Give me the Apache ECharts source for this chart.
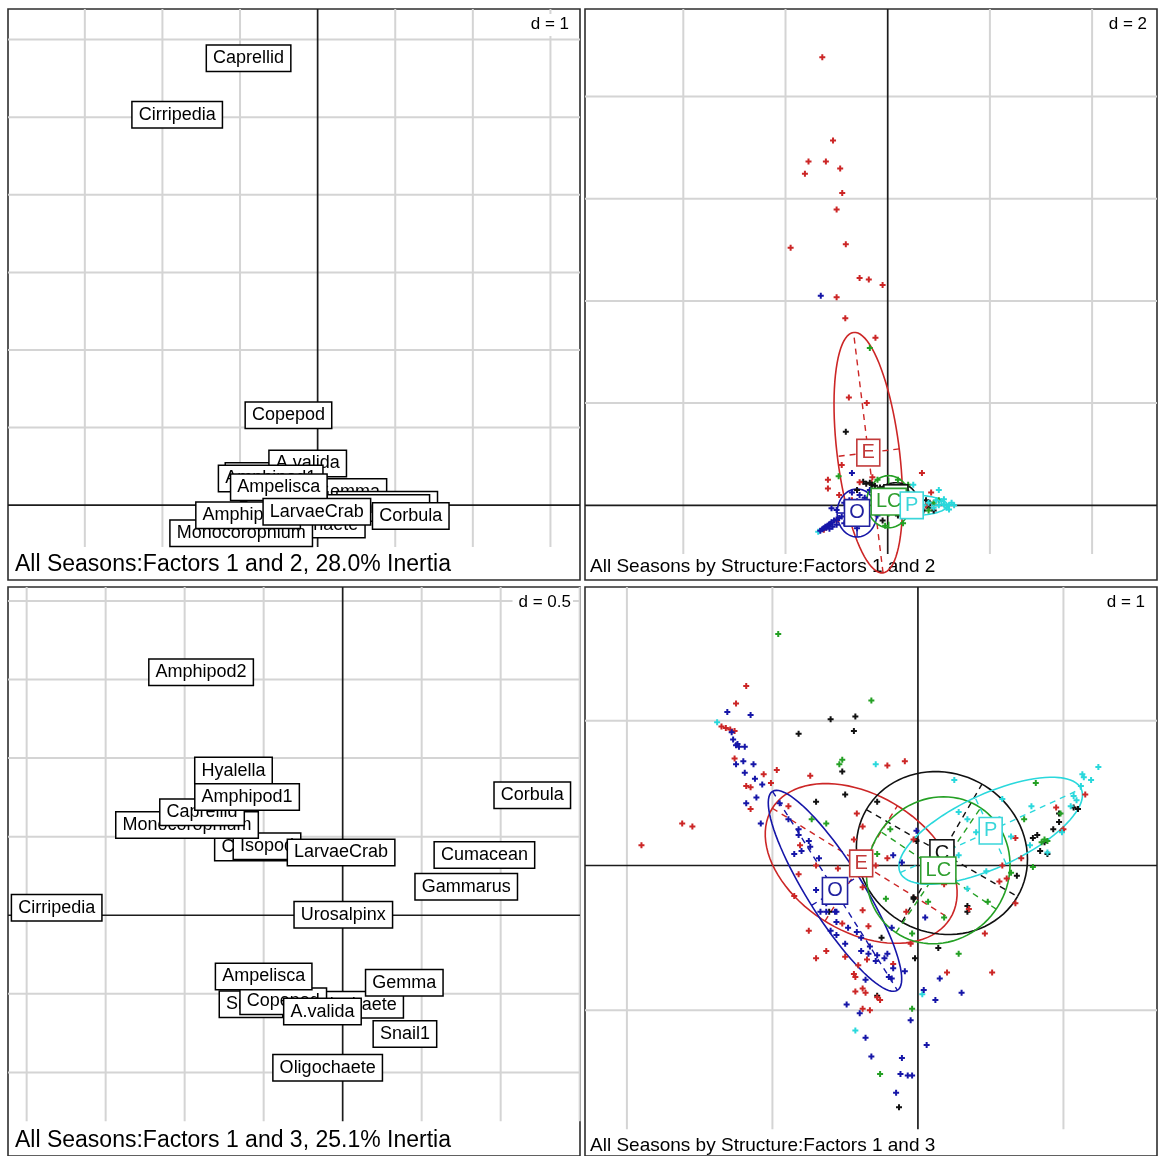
<!DOCTYPE html>
<html>
<head>
<meta charset="utf-8">
<script src="https://cdn.jsdelivr.net/npm/echarts@6/dist/echarts.min.js"></script>
<style>
  html, body { margin: 0; padding: 0; background: #fff; }
  #chart { width: 1159px; height: 1156px; }
</style>
</head>
<body>
<div id="chart"></div>
<script>
// ---- species scores (drawn in this order, later labels on top) ----
const species = ['Snail2','Crangon','Isopod','Polychaete','Urosalpinx','Snail1','Gemma','Cumacean','Gammarus',
  'Oligochaete','Hyalella','Copepod','A.valida','Monocorophium','Caprellid','Amphipod1',
  'Ampelisca','Amphipod2','LarvaeCrab','Corbula','Cirripedia'];
const factor1 = [-0.58,-0.549,-0.479,0.06,0.004,0.394,0.39,0.897,0.782,-0.095,-0.691,-0.376,-0.128,-0.985,-0.89,-0.605,-0.50,-0.896,-0.01,1.20,-1.81];
const factor2 = [0.22,0.28,0.20,0.0,-0.05,0.12,0.17,0.006,-0.036,-0.25,0.376,1.16,0.537,-0.36,5.76,0.345,0.232,-0.13,-0.086,-0.138,5.03];
const factor3 = [-0.566,0.432,0.439,-0.57,0.004,-0.756,-0.43,0.384,0.182,-0.971,0.921,-0.547,-0.613,0.574,0.655,0.752,-0.389,1.547,0.40,0.763,0.048];

// ---- site classes ----
const classNames = ['E','O','C','LC','P'];
const classColors = ['#cc2626','#1616a8','#111111','#24a024','#2ad8dc'];
const classLabelColors = ['#c23a3a','#2222a0','#111111','#2e9e2e','#3ad6da'];

// ---- site scores, factors 1 & 2 ----
const pts12E = [[-1.28,8.77],[-1.07,7.14],[-1.55,6.73],[-1.21,6.73],[-0.93,6.59],[-1.62,6.49],[-0.89,6.11],[-1.00,5.79],[-1.90,5.04],[-0.82,5.11],[-0.55,4.45],[-0.37,4.42],[-0.10,4.31],[-1.00,4.07],[-0.83,3.66],[-0.24,3.28],[-0.76,2.11],[-0.41,2.00],[-0.90,0.79],[-1.17,0.50],[-1.17,0.33],[0.67,0.63],[-0.55,0.45],[-0.30,0.55],[-0.20,0.25],[-0.70,0.10],[-1.00,-0.30],[-0.50,-0.30],[0.05,0.35],[0.30,0.10],[0.85,0.25],[0.75,0.00],[-1.25,-0.48],[-0.95,0.20]];
const pts12O = [[-1.32,-0.50],[-1.28,-0.47],[-1.25,-0.45],[-1.22,-0.42],[-1.20,-0.44],[-1.18,-0.40],[-1.15,-0.38],[-1.12,-0.36],[-1.10,-0.33],[-1.05,-0.30],[-1.00,-0.28],[-0.95,-0.25],[-0.90,-0.22],[-1.08,-0.42],[-1.14,-0.46],[-1.00,-0.38],[-0.85,0.05],[-0.80,-0.05],[-0.75,0.10],[-0.70,0.25],[-0.65,0.00],[-0.55,0.20],[-0.50,-0.10],[-0.45,0.15],[-0.40,-0.30],[-0.60,-0.45],[-0.35,0.30],[-0.30,0.10],[-1.10,-0.06],[-1.00,-0.09],[-0.70,0.63],[-1.31,4.10],[-0.20,-0.20],[-0.85,-0.35]];
const pts12C = [[-0.82,1.44],[-0.48,0.46],[-0.42,0.42],[-0.35,0.44],[-0.31,0.40],[-0.25,0.38],[-0.60,0.30],[-0.15,0.35],[-0.05,0.30],[0.10,0.20],[0.75,0.10],[0.80,-0.05],[0.82,0.05],[0.90,-0.10],[0.20,-0.20],[-0.10,-0.30],[0.70,-0.10]];
const pts12LC = [[-0.35,3.08],[-0.96,0.57],[0.00,0.35],[0.20,0.50],[0.40,0.40],[-0.20,0.50],[0.50,-0.20],[0.30,-0.35],[0.90,0.05],[1.00,0.10],[0.80,-0.10],[-0.10,0.10],[0.15,-0.10],[0.60,0.20],[-0.05,-0.40],[0.35,0.15]];
const pts12P = [[0.60,0.05],[0.70,0.00],[0.80,0.05],[0.90,-0.05],[1.00,0.00],[1.10,0.02],[1.20,0.00],[1.30,0.00],[1.25,0.05],[1.15,-0.05],[1.05,0.08],[0.95,0.10],[0.50,0.40],[1.00,0.30],[-1.36,-0.52],[0.40,-0.10],[0.30,0.25],[1.20,-0.08],[1.10,0.12]];

// ---- site scores, factors 1 & 3 ----
const pts13E = [[-1.18,1.24],[-1.25,1.12],[-1.35,0.96],[-1.32,0.95],[-1.29,0.94],[-1.26,0.93],[-1.26,0.74],[-1.06,0.63],[-0.97,0.66],[-1.01,0.57],[-1.18,0.55],[-1.15,0.54],[-0.74,0.62],[-1.15,0.39],[-0.89,0.41],[-1.62,0.29],[-1.55,0.27],[-1.90,0.14],[-0.21,0.69],[-0.09,0.72],[-0.42,0.36],[-0.38,0.27],[-0.44,0.18],[-0.81,0.14],[-0.82,-0.06],[-0.70,0.0],[-0.55,-0.02],[-0.85,-0.21],[-0.38,-0.15],[-0.38,-0.31],[-0.34,-0.42],[-0.52,-0.40],[-0.75,-0.45],[-0.63,-0.59],[-0.70,-0.64],[-0.50,-0.63],[-0.41,-0.69],[-0.35,-0.65],[-0.44,-0.75],[-0.43,-0.77],[-0.17,-0.68],[-0.43,-0.87],[-0.38,-0.85],[-0.36,-0.88],[-0.26,-0.93],[-0.28,-0.91],[-0.38,-0.99],[-0.33,-1.0],[-0.08,-0.32],[-0.21,0.05],[-0.29,0.0],[-0.03,0.18],[0.15,0.04],[0.35,-0.30],[0.56,-0.11],[0.61,-0.09],[0.58,0.0],[0.71,0.05],[0.67,0.19],[0.18,-0.13],[0.22,0.03],[0.67,-0.26],[0.46,-0.47],[0.51,-0.74],[0.20,-0.74],[-0.05,-0.54],[1.0,0.25],[0.95,0.40],[1.15,0.49],[0.99,0.24]];
const pts13O = [[-1.31,1.06],[-1.15,1.04],[-1.28,0.92],[-1.27,0.87],[-1.25,0.83],[-1.23,0.82],[-1.24,0.84],[-1.19,0.82],[-1.25,0.70],[-1.20,0.72],[-1.13,0.70],[-1.19,0.64],[-1.12,0.60],[-1.07,0.56],[-1.18,0.43],[-1.11,0.47],[-1.08,0.29],[-0.95,0.43],[-0.89,0.32],[-0.82,0.25],[-0.82,0.21],[-0.75,0.17],[-0.74,0.13],[-0.68,0.05],[-0.85,0.08],[-0.80,0.10],[-0.70,-0.17],[-0.63,-0.26],[-0.56,-0.32],[-0.67,-0.32],[-0.63,-0.32],[-0.57,-0.32],[-0.56,-0.39],[-0.60,-0.45],[-0.56,-0.48],[-0.50,-0.54],[-0.48,-0.43],[-0.42,-0.46],[-0.39,-0.50],[-0.33,-0.56],[-0.39,-0.59],[-0.34,-0.61],[-0.29,-0.66],[-0.28,-0.62],[-0.23,-0.64],[-0.21,-0.61],[-0.18,-0.43],[-0.09,-0.73],[-0.17,-0.71],[-0.20,-0.77],[-0.18,-0.78],[-0.36,-0.79],[0.04,-0.86],[0.05,-0.36],[0.15,-0.78],[0.12,-0.93],[0.30,-0.88],[-0.49,-0.96],[-0.40,-1.02],[-0.05,-1.07],[-0.36,-1.19],[0.06,-1.24],[-0.32,-1.32],[-0.11,-1.33],[-0.12,-1.44],[-0.07,-1.45],[-0.04,-1.45],[-0.15,-1.57],[-0.01,0.24],[-0.17,0.07],[-0.11,0.02]];
const pts13C = [[-0.60,1.01],[-0.43,1.03],[-0.44,0.93],[-0.82,0.91],[-0.52,0.65],[-0.50,0.49],[-0.70,0.44],[-0.28,0.44],[0.79,0.19],[0.82,0.21],[0.84,0.10],[0.89,0.08],[0.87,0.16],[0.97,0.36],[0.97,0.30],[0.93,0.25],[1.07,0.40],[1.10,0.39],[-0.01,0.17],[-0.03,-0.22],[0.68,-0.07],[0.34,-0.28],[0.34,-0.32],[-0.61,-0.32],[-0.03,-0.23],[-0.25,-0.50],[-0.02,-0.64],[0.14,-0.57],[-0.28,-0.90],[-0.13,-1.67]];
const pts13LC = [[-0.96,1.60],[-0.32,1.14],[-0.52,0.73],[-0.54,0.70],[-0.73,0.32],[-0.63,0.29],[-0.19,0.25],[-0.28,0.08],[0.81,0.57],[0.73,0.32],[0.87,0.18],[0.85,0.16],[0.89,0.17],[0.98,0.36],[0.79,-0.01],[0.07,-0.25],[0.48,-0.25],[0.64,-0.05],[-0.22,-0.23],[0.18,-0.36],[-0.04,-0.47],[0.28,-0.61],[-0.04,-0.99],[-0.26,-1.44]];
const pts13P = [[-1.38,0.99],[-0.29,0.70],[0.25,0.59],[1.13,0.63],[1.19,0.59],[1.24,0.68],[1.14,0.61],[1.07,0.48],[1.09,0.45],[0.99,0.23],[0.89,0.09],[0.77,0.14],[0.78,0.41],[0.64,0.20],[0.56,0.32],[0.40,0.23],[0.47,-0.04],[0.34,-0.16],[0.28,0.07],[0.28,0.37],[0.58,0.46],[0.34,0.32],[0.03,-0.89],[-0.43,-1.14],[1.05,0.41],[1.12,0.55]];

// ---- class ellipses (centre, semi-axes, major-axis angle in degrees), order E, O, C, LC, P ----
const ell12Cx = [-0.38, -0.60, 0.16, 0.02, 0.47];
const ell12Cy = [1.03, -0.15, 0.14, 0.07, 0.0];
const ell12A = [2.37, 0.47, 0.40, 0.51, 0.70];
const ell12B = [0.61, 0.39, 0.30, 0.43, 0.20];
const ell12Angle = [97, 90, 0, 90, 0];

const ell13Cx = [-0.39, -0.57, 0.165, 0.14, 0.50];
const ell13Cy = [0.014, -0.175, 0.086, -0.033, 0.24];
const ell13A = [0.72, 0.81, 0.60, 0.52, 0.686];
const ell13B = [0.47, 0.19, 0.55, 0.48, 0.253];
const ell13Angle = [-32, -58, -30, 56, 25];

// ---- panel texts ----
const subTitles = ['All Seasons:Factors 1 and 2, 28.0% Inertia', 'All Seasons by Structure:Factors 1 and 2',
  'All Seasons:Factors 1 and 3, 25.1% Inertia', 'All Seasons by Structure:Factors 1 and 3'];
const gridSteps = [1, 2, 0.5, 1];
const gridStepLabels = ['d = 1', 'd = 2', 'd = 0.5', 'd = 1'];

// ---- layout ----
const FONT = '"Liberation Sans", Arial, Helvetica, sans-serif';
const panelBoxes = [
  { left: 8,   top: 9,   width: 572, height: 571 },
  { left: 585, top: 9,   width: 572, height: 571 },
  { left: 8,   top: 587, width: 572, height: 572 },
  { left: 585, top: 587, width: 572, height: 572 }
];
const xRanges = [[-3.99, 3.381], [-5.924, 5.270], [-2.118, 1.502], [-2.288, 1.643]];
const yRanges = [[-0.964, 6.394], [-1.462, 9.712], [-1.532, 2.089], [-2.007, 1.924]];
const bandTops = [547, 554, 1124, 1132];          // grid lines stop above the caption strip
const subStyle = [
  { x: 15, y: 565, size: 23 }, { x: 590, y: 567, size: 19 },
  { x: 15, y: 1141, size: 23 }, { x: 590, y: 1146, size: 19 }
];
const dStyle = [
  { x: 571, y: 14 }, { x: 1149, y: 14 }, { x: 573, y: 592 }, { x: 1147, y: 592 }
];

const PLUS = 'path://M2,0H4V2H6V4H4V6H2V4H0V2H2Z';

function range(min, max, step) {
  const out = [];
  const k0 = Math.ceil(min / step - 1e-9), k1 = Math.floor(max / step + 1e-9);
  for (let k = k0; k <= k1; k++) { if (k !== 0) out.push(+(k * step).toFixed(6)); }
  return out;
}

const grids = [], xAxes = [], yAxes = [], series = [], graphics = [];

panelBoxes.forEach((b, i) => {
  grids.push({ left: b.left, top: b.top, width: b.width, height: b.height, show: true,
    borderColor: '#2e2e2e', borderWidth: 1.6, backgroundColor: '#fff' });
  xAxes.push({ gridIndex: i, type: 'value', min: xRanges[i][0], max: xRanges[i][1], show: false });
  yAxes.push({ gridIndex: i, type: 'value', min: yRanges[i][0], max: yRanges[i][1], show: false });

  const [x0, x1] = xRanges[i], [y0, y1] = yRanges[i];
  const pxPerUnit = b.height / (y1 - y0);
  const yBand = y1 - (bandTops[i] - b.top) / pxPerUnit;
  const lines = [];
  range(x0, x1, gridSteps[i]).forEach(v => lines.push([0, v, yBand, y1, 0]));
  range(yBand, y1, gridSteps[i]).forEach(v => lines.push([1, v, x0, x1, 0]));
  lines.push([0, 0, yBand, y1, 1]);
  lines.push([1, 0, x0, x1, 1]);

  series.push({
    type: 'custom', xAxisIndex: i, yAxisIndex: i, silent: true, z: 1, animation: false,
    data: lines,
    renderItem: (params, api) => {
      const o = api.value(0), v = api.value(1), a = api.value(2), c = api.value(3), k = api.value(4);
      const p0 = o === 0 ? api.coord([v, a]) : api.coord([a, v]);
      const p1 = o === 0 ? api.coord([v, c]) : api.coord([c, v]);
      return { type: 'line', shape: { x1: p0[0], y1: p0[1], x2: p1[0], y2: p1[1] },
        style: { stroke: k ? '#1c1c1c' : '#d4d4d4', lineWidth: k ? 1.7 : 2 }, z2: k ? 2 : 1 };
    }
  });

  graphics.push({ type: 'text', x: dStyle[i].x, y: dStyle[i].y, z: 1.5, silent: true,
    style: { text: gridStepLabels[i], font: '17px ' + FONT, fill: '#000', align: 'right', verticalAlign: 'top',
      backgroundColor: '#fff', padding: [2, 2, 3, 6] } });
  graphics.push({ type: 'text', x: subStyle[i].x, y: subStyle[i].y, z: 1.5, silent: true,
    style: { text: subTitles[i], font: subStyle[i].size + 'px ' + FONT, fill: '#000', align: 'left', verticalAlign: 'middle' } });
});

// species label boxes
function labelSeries(gi, ys) {
  return {
    type: 'scatter', xAxisIndex: gi, yAxisIndex: gi, silent: true, z: 3, animation: false,
    symbol: 'circle', symbolSize: 1, itemStyle: { color: 'rgba(0,0,0,0)', opacity: 1 },
    data: species.map((s, k) => ({ name: s, value: [factor1[k], ys[k]] })),
    label: { show: true, position: 'inside', formatter: p => p.name, fontSize: 18, fontFamily: FONT,
      color: '#000', backgroundColor: '#fff', borderColor: '#000', borderWidth: 1.5, padding: [4, 6, 3, 6] },
    labelLayout: { hideOverlap: false }
  };
}
series.push(labelSeries(0, factor2));
series.push(labelSeries(2, factor3));

// class ellipses with dashed axes
function ellipseSeries(gi, cx, cy, aa, bb, ang) {
  return {
    type: 'custom', xAxisIndex: gi, yAxisIndex: gi, silent: true, z: 2, animation: false, clip: true,
    data: cx.map((v, k) => [v, cy[k], aa[k], bb[k], ang[k], k]),
    renderItem: (params, api) => {
      const c0 = api.value(0), c1 = api.value(1), a = api.value(2), b = api.value(3);
      const t0 = api.value(4) * Math.PI / 180, ci = api.value(5);
      const color = classColors[ci];
      const ca = Math.cos(t0), sa = Math.sin(t0);
      const pts = [];
      for (let s = 0; s <= 90; s++) {
        const t = 2 * Math.PI * s / 90, u = a * Math.cos(t), w = b * Math.sin(t);
        pts.push(api.coord([c0 + u * ca - w * sa, c1 + u * sa + w * ca]));
      }
      const m1 = api.coord([c0 - a * ca, c1 - a * sa]), m2 = api.coord([c0 + a * ca, c1 + a * sa]);
      const n1 = api.coord([c0 + b * sa, c1 - b * ca]), n2 = api.coord([c0 - b * sa, c1 + b * ca]);
      const dash = { stroke: color, lineWidth: 1.4, lineDash: [6, 5], fill: null };
      return { type: 'group', children: [
        { type: 'polyline', shape: { points: pts }, style: { stroke: color, lineWidth: 1.6, fill: null } },
        { type: 'line', shape: { x1: m1[0], y1: m1[1], x2: m2[0], y2: m2[1] }, style: dash },
        { type: 'line', shape: { x1: n1[0], y1: n1[1], x2: n2[0], y2: n2[1] }, style: dash }
      ] };
    }
  };
}
series.push(ellipseSeries(1, ell12Cx, ell12Cy, ell12A, ell12B, ell12Angle));
series.push(ellipseSeries(3, ell13Cx, ell13Cy, ell13A, ell13B, ell13Angle));

// site points
function pointSeries(gi, data, ci) {
  return { type: 'scatter', xAxisIndex: gi, yAxisIndex: gi, silent: true, z: 3, animation: false,
    data: data, symbol: PLUS, symbolSize: 6, itemStyle: { color: classColors[ci], opacity: 1 } };
}
const pts12 = [pts12E, pts12O, pts12C, pts12LC, pts12P];
const pts13 = [pts13E, pts13O, pts13C, pts13LC, pts13P];
[2, 0, 3, 4, 1].forEach(ci => {
  series.push(pointSeries(1, pts12[ci], ci));
  series.push(pointSeries(3, pts13[ci], ci));
});

// class label boxes at class centres
function classLabelSeries(gi, cx, cy) {
  return {
    type: 'scatter', xAxisIndex: gi, yAxisIndex: gi, silent: true, z: 4, animation: false,
    symbol: 'circle', symbolSize: 1, itemStyle: { color: 'rgba(0,0,0,0)', opacity: 1 },
    data: classNames.map((n, k) => ({ name: n, value: [cx[k], cy[k]],
      label: { color: classLabelColors[k], borderColor: classLabelColors[k] } })),
    label: { show: true, position: 'inside', formatter: p => p.name, fontSize: 20, fontFamily: FONT,
      backgroundColor: '#fff', borderWidth: 1.6, padding: [3, 4, 2, 4] },
    labelLayout: { hideOverlap: false }
  };
}
series.push(classLabelSeries(1, ell12Cx, ell12Cy));
series.push(classLabelSeries(3, ell13Cx, ell13Cy));

const chart = echarts.init(document.getElementById('chart'), null, { renderer: 'canvas' });
chart.setOption({
  animation: false,
  backgroundColor: '#fff',
  grid: grids,
  xAxis: xAxes,
  yAxis: yAxes,
  graphic: graphics,
  series: series
});
</script>
</body>
</html>
